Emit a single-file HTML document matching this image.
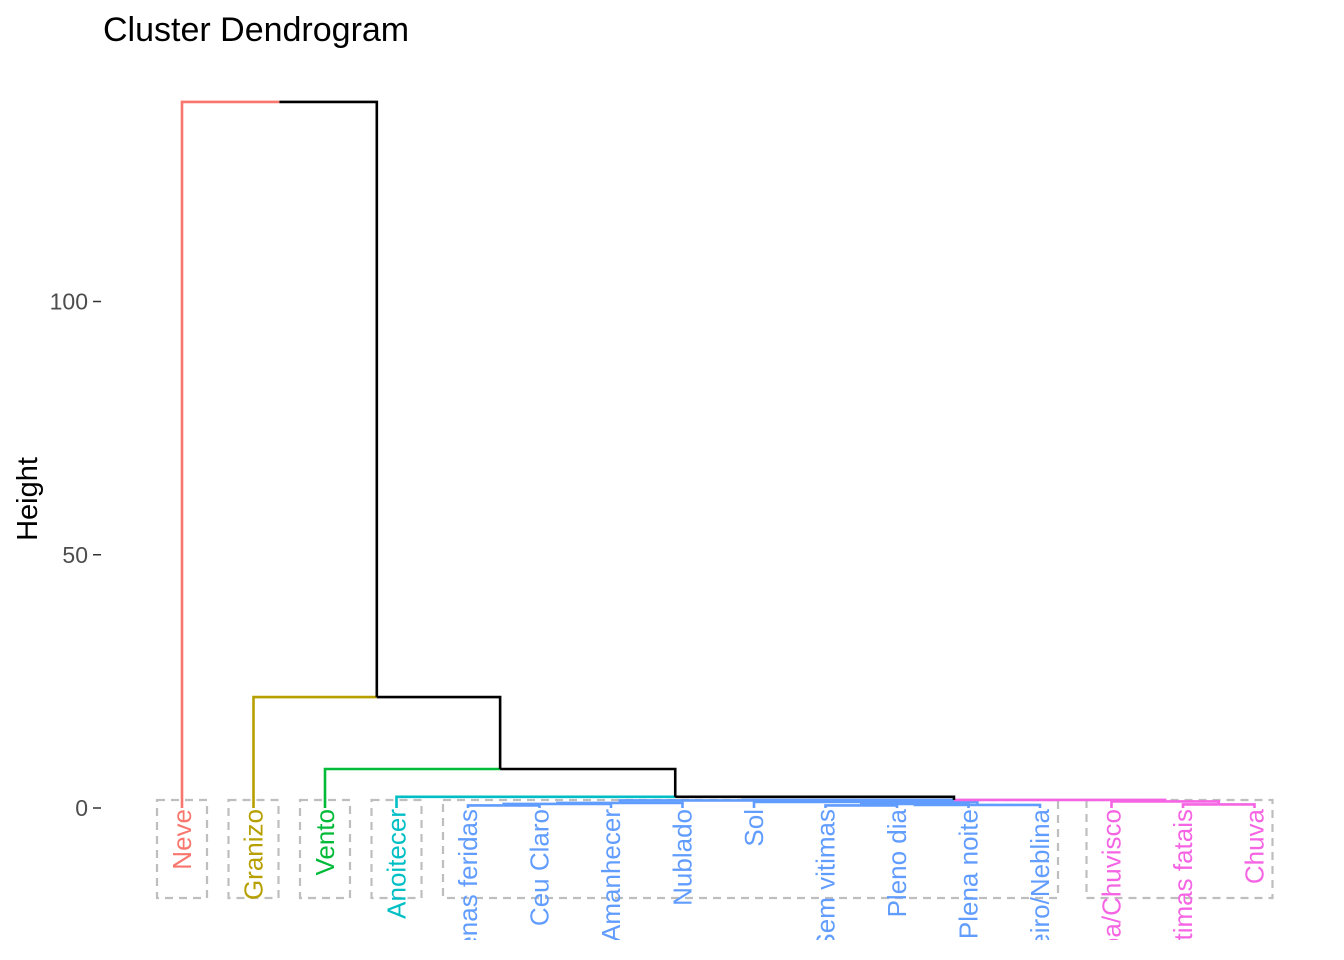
<!DOCTYPE html>
<html><head><meta charset="utf-8"><style>html,body{margin:0;background:#fff;overflow:hidden;width:1344px;height:960px}svg{display:block;overflow:hidden}</style></head>
<body>
<svg id="c" width="1344" height="960" xmlns="http://www.w3.org/2000/svg" font-family="Liberation Sans, sans-serif">
<defs><clipPath id="clip"><rect x="0" y="0" width="1344" height="940"/></clipPath></defs>
<text x="103" y="41" font-size="34" fill="#000">Cluster Dendrogram</text>
<text transform="translate(37,499) rotate(-90)" text-anchor="middle" font-size="29" fill="#000">Height</text>
<g id="axis"></g><g id="boxes"></g><g id="links"></g><g id="labels" clip-path="url(#clip)"></g>
</svg>
<script>
const leafNames = ["Neve","Granizo","Vento","Anoitecer","Apenas feridas","Ceu Claro","Amanhecer","Nublado","Sol","Sem vitimas","Pleno dia","Plena noite","Nevoeiro/Neblina","Garoa/Chuvisco","Com vitimas fatais","Chuva"];
const leafCluster = [0,1,2,3,4,4,4,4,4,4,4,4,4,5,5,5];
const clusterColors = ["#F8766D","#B79F00","#00BA38","#00BFC4","#619CFF","#F564E3"];
const yTicks = [0,50,100];
// merges: [left, right, height]; negative = leaf index (1-based), positive = merge row (1-based)
const merges = [
 [-15,-16,0.7],
 [-14,1,1.3],
 [-5,-6,0.5],
 [3,-7,0.8],
 [4,-8,1.0],
 [-10,-11,0.5],
 [6,-12,0.8],
 [7,-13,0.6],
 [-9,8,1.2],
 [5,9,1.5],
 [10,2,1.6],
 [-4,11,2.2],
 [-3,12,7.7],
 [-2,13,21.9],
 [-1,14,139.4]
];
const NS="http://www.w3.org/2000/svg";
const x0=182, dx=71.5;
const yS=v=>808-v*5.065;
const xL=i=>x0+i*dx;
function mk(tag,attrs,parent){const e=document.createElementNS(NS,tag);for(const k in attrs)e.setAttribute(k,attrs[k]);document.getElementById(parent).appendChild(e);return e;}
yTicks.forEach(t=>{
 const l=mk('line',{x1:93,x2:101,y1:yS(t),y2:yS(t),stroke:'#333','stroke-width':1.5},'axis');
 
 
 const tx=mk('text',{x:88,y:yS(t)+8,'text-anchor':'end','font-size':23,fill:'#4d4d4d'},'axis');
 tx.textContent=t;
 
 
});
const info={};
function node(ref){
 if(ref<0){const i=-ref-1;return {x:xL(i),h:0,cl:leafCluster[i]};}
 return info[ref];
}
merges.forEach((m,k)=>{
 const a=node(m[0]),b=node(m[1]);
 const cl=(a.cl!==null&&a.cl===b.cl)?a.cl:null;
 info[k+1]={x:(a.x+b.x)/2,h:m[2],cl:cl};
 const mx=(a.x+b.x)/2;
 [a,b].forEach(c=>{
  const col=c.cl===null?'#000':clusterColors[c.cl];
  const p=mk('path',{d:`M${c.x},${yS(c.h)}V${yS(m[2])}H${mx}`,fill:'none',stroke:col,'stroke-width':2.6},'links');
  
  
 });
});
clusterColors.forEach((c,ci)=>{
 const idx=leafCluster.map((v,i)=>v===ci?i:-1).filter(i=>i>=0);
 const x1=xL(idx[0])-25, x2=xL(idx[idx.length-1])+18;
 const r=mk('rect',{x:x1,y:800,width:x2-x1+(idx.length>1?0:7),height:98,fill:'none',stroke:'#bebebe','stroke-width':2.2,'stroke-dasharray':'8,6'},'boxes');
 
 
});
leafNames.forEach((n,i)=>{
 const t=mk('text',{transform:`translate(${xL(i)+9},809) rotate(-90)`,'text-anchor':'end','font-size':26,fill:clusterColors[leafCluster[i]]},'labels');
 t.textContent=n;
 
 
});
</script>
</body></html>
